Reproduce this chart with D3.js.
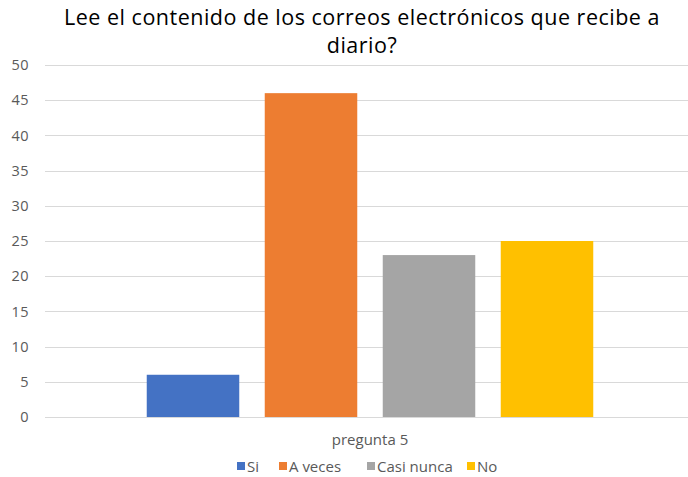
<!DOCTYPE html>
<html>
<head>
<meta charset="utf-8">
<script src="https://cdn.jsdelivr.net/npm/d3@7"></script>
<style>
	body { margin: 0; background: #fff; }
	svg { display: block; font-family: "Open Sans", "Liberation Sans", sans-serif; }
</style>
</head>
<body>
<div id="chart"></div>
<script>
// data
var titleLines = ['Lee el contenido de los correos electrónicos que recibe a', 'diario?'];
var category   = 'pregunta 5';
var series     = ['Si', 'A veces', 'Casi nunca', 'No'];
var values     = [6, 46, 23, 25];
var colors     = ['#4472c4', '#ed7d31', '#a5a5a5', '#ffc000'];
var yTicks     = [0, 5, 10, 15, 20, 25, 30, 35, 40, 45, 50];

var width  = 688,
	height = 477;

var svg = d3.select('#chart').append('svg')
	.attr('width', width)
	.attr('height', height);

// title, two separate lines
svg.append('g')
	.selectAll('text')
	.data(titleLines)
	.enter().append('text')
		.attr('x', 362)
		.attr('y', function(d, i) { return 25 + i * 28; })
		.attr('text-anchor', 'middle')
		.attr('font-size', '21.5px')
		.attr('letter-spacing', '0.5px')
		.attr('fill', '#000')
		.text(function(d) { return d; });

var yScale = d3.scaleLinear()
	.domain([0, 50])
	.range([417, 65]);

var xScale = d3.scaleBand()
	.domain(series)
	.range([134, 606])
	.paddingInner(0.216)
	.paddingOuter(0.108);

// grid lines
svg.append('g')
	.selectAll('line')
	.data(yTicks)
	.enter().append('line')
		.attr('x1', 45)
		.attr('x2', 695)
		.attr('y1', function(d) { return Math.round(yScale(d)) + 0.5; })
		.attr('y2', function(d) { return Math.round(yScale(d)) + 0.5; })
		.attr('stroke', '#d9d9d9')
		.attr('stroke-width', 1);

// y axis labels
var yAxis = d3.axisLeft(yScale)
	.tickValues(yTicks)
	.tickSize(0)
	.tickPadding(0);

var gy = svg.append('g')
	.attr('transform', 'translate(29,0)')
	.call(yAxis);
gy.select('.domain').remove();
gy.selectAll('text')
	.attr('font-family', '"Open Sans", "Liberation Sans", sans-serif')
	.attr('font-size', '14.5px')
	.attr('letter-spacing', '0.5px')
	.attr('fill', '#595959');

// bars
svg.append('g')
	.selectAll('rect')
	.data(values)
	.enter().append('rect')
		.attr('x', function(d, i) { return xScale(series[i]); })
		.attr('y', function(d) { return yScale(d); })
		.attr('width', xScale.bandwidth())
		.attr('height', function(d) { return yScale(0) - yScale(d); })
		.attr('fill', function(d, i) { return colors[i]; });

// category label
svg.append('text')
	.attr('x', 370)
	.attr('y', 445)
	.attr('text-anchor', 'middle')
	.attr('font-size', '15px')
	.attr('fill', '#595959')
	.text(category);

// legend
var legendX = [237, 279, 367, 467];
var legend = svg.append('g')
	.selectAll('g')
	.data(series)
	.enter().append('g')
		.attr('transform', function(d, i) { return 'translate(' + legendX[i] + ',0)'; });
legend.append('rect')
	.attr('x', 0)
	.attr('y', 462)
	.attr('width', 8)
	.attr('height', 8)
	.attr('fill', function(d, i) { return colors[i]; });
legend.append('text')
	.attr('x', 10)
	.attr('y', 472)
	.attr('font-size', '15px')
	.attr('fill', '#595959')
	.text(function(d) { return d; });
</script>
</body>
</html>
